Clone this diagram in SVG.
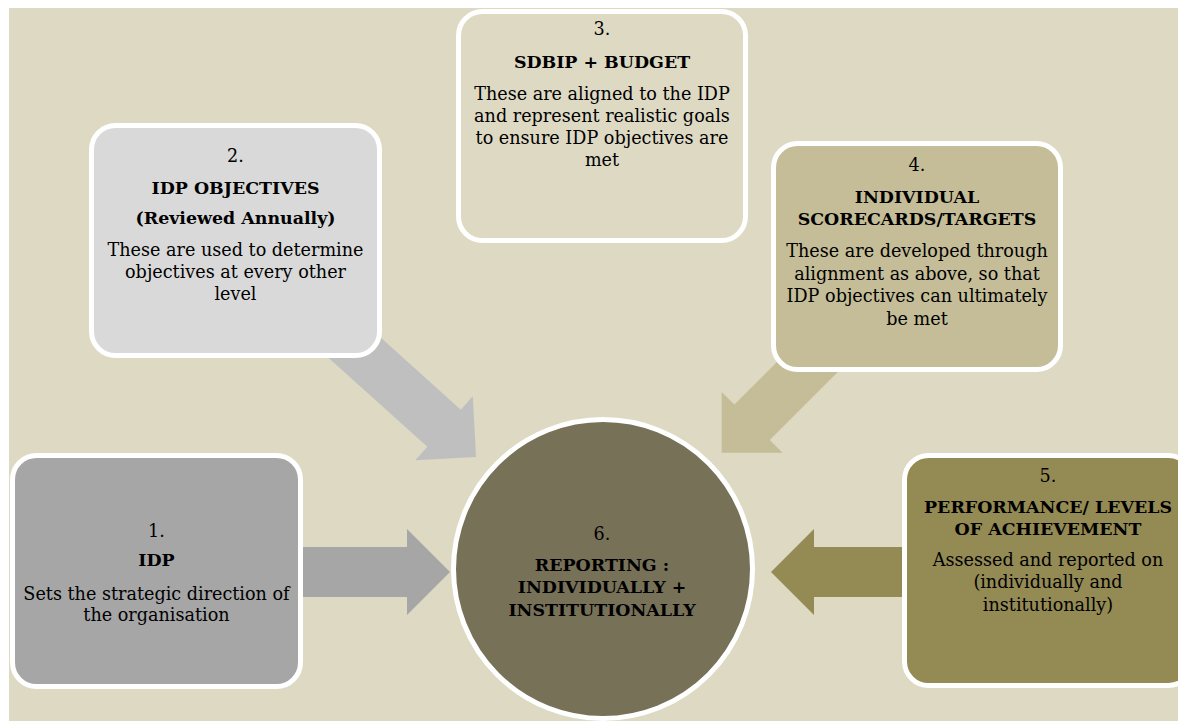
<svg xmlns="http://www.w3.org/2000/svg" width="1178" height="721" viewBox="0 0 1178 721">
<style>
.box{stroke:#ffffff;stroke-width:5}
text{font-family:"DejaVu Serif","Liberation Serif",serif;font-size:17.6px;fill:#000;text-anchor:middle}
.b{font-weight:bold;font-size:17.4px}
</style>
<defs>
<polygon id="arrowR" points="0,0 -43,-43 -43,-25 -200,-25 -200,25 -43,25 -43,43"/>
</defs>
<rect x="9" y="8" width="1169" height="713" fill="#ddd9c3"/>
<g id="connectors">
<use href="#arrowR" transform="translate(450,572)" fill="#a6a6a6"/>
<use href="#arrowR" transform="translate(476,457) rotate(42)" fill="#bfbfbf"/>
<use href="#arrowR" transform="translate(721.7,452.7) rotate(135)" fill="#c4bd97"/>
<use href="#arrowR" transform="translate(771,572) rotate(180)" fill="#948a54"/>
</g>
<g id="node1">
<rect class="box" x="12.5" y="455.5" width="288" height="231" rx="24" fill="#a6a6a6"/>
<text x="156.5" y="537">1.</text>
<text class="b" x="156.5" y="566">IDP</text>
<text x="156.5" y="600">Sets the strategic direction of</text>
<text x="156.5" y="621">the organisation</text>
</g>
<g id="node2">
<rect class="box" x="91.5" y="125.5" width="288" height="230" rx="24" fill="#d9d9d9"/>
<text x="235.5" y="162">2.</text>
<text class="b" x="235.5" y="194">IDP OBJECTIVES</text>
<text class="b" x="235.5" y="224">(Reviewed Annually)</text>
<text x="235.5" y="256">These are used to determine</text>
<text x="235.5" y="278">objectives at every other</text>
<text x="235.5" y="300">level</text>
</g>
<g id="node3">
<rect class="box" x="458.5" y="11.5" width="287" height="229" rx="24" fill="#ddd9c3"/>
<text x="602" y="35">3.</text>
<text class="b" x="602" y="68">SDBIP + BUDGET</text>
<text x="602" y="100">These are aligned to the IDP</text>
<text x="602" y="122">and represent realistic goals</text>
<text x="602" y="144">to ensure IDP objectives are</text>
<text x="602" y="166">met</text>
</g>
<g id="node4">
<rect class="box" x="773.5" y="143.5" width="287" height="226" rx="24" fill="#c4bd97"/>
<text x="917" y="171">4.</text>
<text class="b" x="917" y="203">INDIVIDUAL</text>
<text class="b" x="917" y="225">SCORECARDS/TARGETS</text>
<text x="917" y="257">These are developed through</text>
<text x="917" y="279.5">alignment as above, so that</text>
<text x="917" y="302">IDP objectives can ultimately</text>
<text x="917" y="324.5">be met</text>
</g>
<g id="node5">
<rect class="box" x="904.5" y="455.5" width="288" height="230" rx="24" fill="#948a54"/>
<text x="1048" y="482">5.</text>
<text class="b" x="1048" y="513">PERFORMANCE/ LEVELS</text>
<text class="b" x="1048" y="535">OF ACHIEVEMENT</text>
<text x="1048" y="566">Assessed and reported on</text>
<text x="1048" y="588">(individually and</text>
<text x="1048" y="611">institutionally)</text>
</g>
<g id="node6">
<circle class="box" cx="603" cy="569" r="149.5" fill="#777158"/>
<text x="602" y="540">6.</text>
<text class="b" x="602" y="571">REPORTING :</text>
<text class="b" x="602" y="593">INDIVIDUALLY +</text>
<text class="b" x="602" y="616">INSTITUTIONALLY</text>
</g>
</svg>
